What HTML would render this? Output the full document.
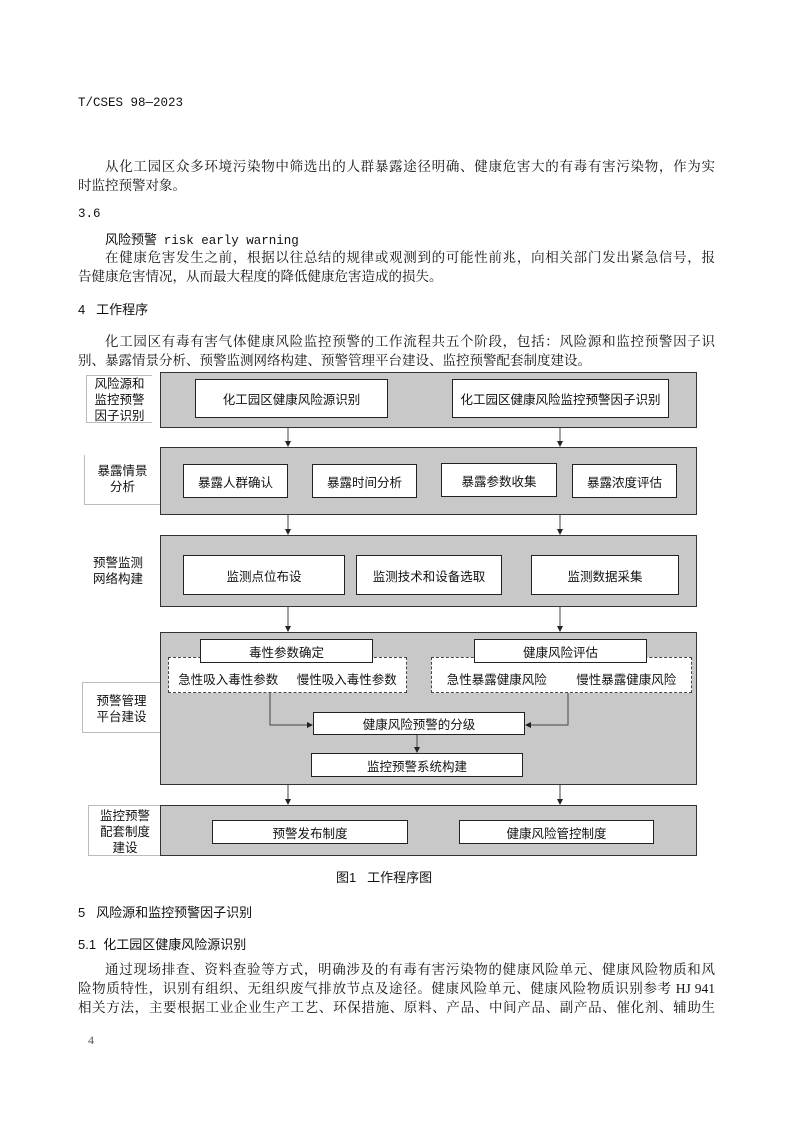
<!DOCTYPE html>
<html><head><meta charset="utf-8">
<style>
body{margin:0;background:#fff;}
#p{position:relative;width:794px;height:1123px;overflow:hidden;background:#fff;color:#111;}
.t{position:absolute;font-family:"Liberation Serif","Noto Serif CJK SC",serif;font-size:13.5px;line-height:16px;white-space:nowrap;}
.j{text-align:justify;text-align-last:justify;white-space:normal;}
.s{font-family:"Liberation Sans","Noto Sans CJK SC",sans-serif;}
.m{font-family:"Liberation Mono","Noto Sans CJK SC",monospace;font-size:12.5px;}
.band{position:absolute;left:160px;width:537px;background:#c8c8c8;border:1.5px solid #333;box-sizing:border-box;}
.b{position:absolute;background:#fff;border:1.2px solid #222;box-sizing:border-box;font-family:"Liberation Sans","Noto Sans CJK SC",sans-serif;font-size:12.5px;display:flex;align-items:center;justify-content:center;white-space:nowrap;}
.d{position:absolute;background:#fff;border:1px dashed #444;box-sizing:border-box;font-family:"Liberation Sans","Noto Sans CJK SC",sans-serif;font-size:12.5px;display:flex;align-items:center;justify-content:space-around;}
.lab{position:absolute;font-family:"Liberation Sans","Noto Sans CJK SC",sans-serif;font-size:12.5px;line-height:16px;text-align:center;box-sizing:border-box;}
.br{border-left:1px solid #bbb;border-bottom:1px solid #bbb;}
svg{position:absolute;left:0;top:0;}
</style></head><body><div id="p">
<div class="t m" style="left:78px;top:95px;">T/CSES 98—2023</div>
<div class="t j" style="left:105px;top:159px;width:610px;">从化工园区众多环境污染物中筛选出的人群暴露途径明确、健康危害大的有毒有害污染物，作为实</div>
<div class="t" style="left:78px;top:178px;">时监控预警对象。</div>
<div class="t m" style="left:78px;top:206px;">3.6</div>
<div class="t" style="left:105px;top:232px;"><span class="s" style="font-size:13px">风险预警</span>&nbsp;&nbsp;<span class="m">risk early warning</span></div>
<div class="t j" style="left:105px;top:250px;width:610px;">在健康危害发生之前，根据以往总结的规律或观测到的可能性前兆，向相关部门发出紧急信号，报</div>
<div class="t" style="left:78px;top:269px;">告健康危害情况，从而最大程度的降低健康危害造成的损失。</div>
<div class="t s" style="left:78px;top:302px;font-size:13px;">4&nbsp;&nbsp;&nbsp;工作程序</div>
<div class="t j" style="left:105px;top:334px;width:610px;">化工园区有毒有害气体健康风险监控预警的工作流程共五个阶段，包括：风险源和监控预警因子识</div>
<div class="t" style="left:78px;top:353px;">别、暴露情景分析、预警监测网络构建、预警管理平台建设、监控预警配套制度建设。</div>

<div class="lab br" style="left:86px;top:375px;width:66px;height:48px;border-top:1px solid #bbb;padding-top:0px;">风险源和<br>监控预警<br>因子识别</div>
<div class="band" style="top:372px;height:56px;"></div>
<div class="b" style="left:195px;top:379px;width:193px;height:39px;">化工园区健康风险源识别</div>
<div class="b" style="left:452px;top:379px;width:217px;height:39px;">化工园区健康风险监控预警因子识别</div>

<div class="lab br" style="left:84px;top:455px;width:76px;height:50px;padding-top:8px;">暴露情景<br>分析</div>
<div class="band" style="top:447px;height:68px;"></div>
<div class="b" style="left:183px;top:464px;width:105px;height:34px;">暴露人群确认</div>
<div class="b" style="left:312px;top:464px;width:105px;height:34px;">暴露时间分析</div>
<div class="b" style="left:441px;top:463px;width:116px;height:34px;">暴露参数收集</div>
<div class="b" style="left:572px;top:464px;width:105px;height:34px;">暴露浓度评估</div>

<div class="lab" style="left:88px;top:555px;width:60px;">预警监测<br>网络构建</div>
<div class="band" style="top:535px;height:72px;"></div>
<div class="b" style="left:183px;top:555px;width:162px;height:40px;">监测点位布设</div>
<div class="b" style="left:356px;top:555px;width:146px;height:40px;">监测技术和设备选取</div>
<div class="b" style="left:531px;top:555px;width:148px;height:40px;">监测数据采集</div>

<div class="lab br" style="left:82px;top:682px;width:78px;height:51px;border-top:1px solid #bbb;padding-top:10px;">预警管理<br>平台建设</div>
<div class="band" style="top:632px;height:153px;"></div>
<div class="d" style="left:168px;top:657px;width:239px;height:36px;padding-top:6px;"><span>急性吸入毒性参数</span><span>慢性吸入毒性参数</span></div>
<div class="d" style="left:431px;top:657px;width:261px;height:36px;padding-top:6px;"><span>急性暴露健康风险</span><span>慢性暴露健康风险</span></div>
<div class="b" style="left:200px;top:639px;width:173px;height:24px;">毒性参数确定</div>
<div class="b" style="left:474px;top:639px;width:173px;height:24px;">健康风险评估</div>
<div class="b" style="left:313px;top:712px;width:212px;height:23px;">健康风险预警的分级</div>
<div class="b" style="left:311px;top:753px;width:212px;height:24px;">监控预警系统构建</div>

<div class="lab br" style="left:88px;top:805px;width:73px;height:51px;border-top:1px solid #bbb;padding-top:2px;">监控预警<br>配套制度<br>建设</div>
<div class="band" style="top:805px;height:51px;"></div>
<div class="b" style="left:212px;top:820px;width:196px;height:24px;">预警发布制度</div>
<div class="b" style="left:459px;top:820px;width:195px;height:24px;">健康风险管控制度</div>

<svg width="794" height="1123">
<defs><marker id="a" markerWidth="6" markerHeight="6" refX="5" refY="3" orient="auto"><path d="M0,0 L6,3 L0,6z" fill="#222"/></marker></defs>
<g stroke="#444" stroke-width="1" fill="none" marker-end="url(#a)">
<line x1="288" y1="428" x2="288" y2="446"/><line x1="560" y1="428" x2="560" y2="446"/>
<line x1="288" y1="515" x2="288" y2="534"/><line x1="560" y1="515" x2="560" y2="534"/>
<line x1="288" y1="607" x2="288" y2="631"/><line x1="560" y1="607" x2="560" y2="631"/>
<line x1="288" y1="785" x2="288" y2="804"/><line x1="560" y1="785" x2="560" y2="804"/>
<polyline points="270,693 270,725 312,725"/>
<polyline points="568,693 568,725 526,725"/>
<line x1="417" y1="735" x2="417" y2="752"/>
</g>
</svg>

<div class="t s" style="left:336px;top:870px;font-size:13px;">图1&nbsp;&nbsp;&nbsp;工作程序图</div>
<div class="t s" style="left:78px;top:905px;font-size:13px;">5&nbsp;&nbsp;&nbsp;风险源和监控预警因子识别</div>
<div class="t s" style="left:78px;top:937px;font-size:13px;">5.1&nbsp;&nbsp;化工园区健康风险源识别</div>
<div class="t j" style="left:105px;top:962px;width:610px;">通过现场排查、资料查验等方式，明确涉及的有毒有害污染物的健康风险单元、健康风险物质和风</div>
<div class="t j" style="left:78px;top:981px;width:637px;">险物质特性，识别有组织、无组织废气排放节点及途径。健康风险单元、健康风险物质识别参考 HJ 941</div>
<div class="t j" style="left:78px;top:1000px;width:637px;">相关方法，主要根据工业企业生产工艺、环保措施、原料、产品、中间产品、副产品、催化剂、辅助生</div>
<div class="t" style="left:88px;top:1032px;font-size:12px;color:#555;">4</div>
</div></body></html>
